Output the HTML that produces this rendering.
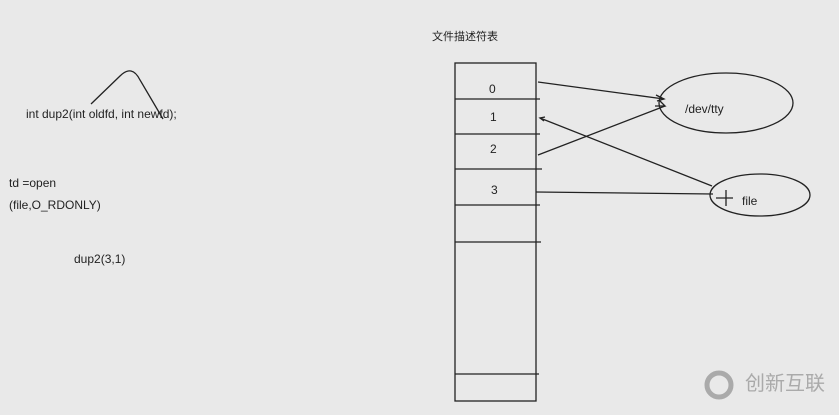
<!DOCTYPE html>
<html><head><meta charset="utf-8"><style>
body{margin:0;width:839px;height:415px;background:#e9e9e9;overflow:hidden;font-family:"Liberation Sans","Noto Sans CJK SC",sans-serif;}
svg{position:absolute;left:0;top:0}
text{font-family:"Liberation Sans","Noto Sans CJK SC",sans-serif;fill:#222;}
</style></head><body>
<svg width="839" height="415" viewBox="0 0 839 415">
<text x="432" y="40" font-size="11">文件描述符表</text>
<g stroke="#222" stroke-width="1.3" fill="none">
<rect x="455" y="63" width="81" height="338"/>
<line x1="455" y1="99" x2="540" y2="99"/>
<line x1="455" y1="134" x2="540" y2="134"/>
<line x1="455" y1="169" x2="542" y2="169"/>
<line x1="455" y1="205" x2="540" y2="205"/>
<line x1="455" y1="242" x2="541" y2="242"/>
<line x1="455" y1="374" x2="539" y2="374"/>
<ellipse cx="726" cy="103" rx="67" ry="30"/>
<ellipse cx="760" cy="195" rx="50" ry="21"/>
<line x1="538" y1="82" x2="664" y2="99"/>
<polyline points="656,95 664,99 657,101"/>
<line x1="538" y1="155" x2="665" y2="106"/>
<polyline points="655,106 665,106 659,100"/>
<line x1="540" y1="118" x2="712" y2="186"/>
<polyline points="545,117 540,118 544,121"/>
<line x1="536" y1="192" x2="713" y2="194"/>
<line x1="716" y1="198" x2="733" y2="198"/>
<line x1="726" y1="190" x2="726" y2="206"/>
<path d="M91,104 L120,76 Q132,64 140,80 L163,119"/>
</g>
<g font-size="12">
<text x="489" y="93">0</text>
<text x="490" y="121">1</text>
<text x="490" y="153">2</text>
<text x="491" y="194">3</text>
<text x="685" y="113">/dev/tty</text>
<text x="742" y="205">file</text>
<text x="26" y="118">int dup2(int oldfd, int newfd);</text>
<text x="9" y="187">td =open</text>
<text x="9" y="209">(file,O_RDONLY)</text>
<text x="74" y="263">dup2(3,1)</text>
</g>
<text x="745" y="390" font-size="20" style="fill:#aaa">创新互联</text>
<circle cx="719" cy="385" r="12" stroke="#aaa" stroke-width="5" fill="none"/>
</svg>
</body></html>
